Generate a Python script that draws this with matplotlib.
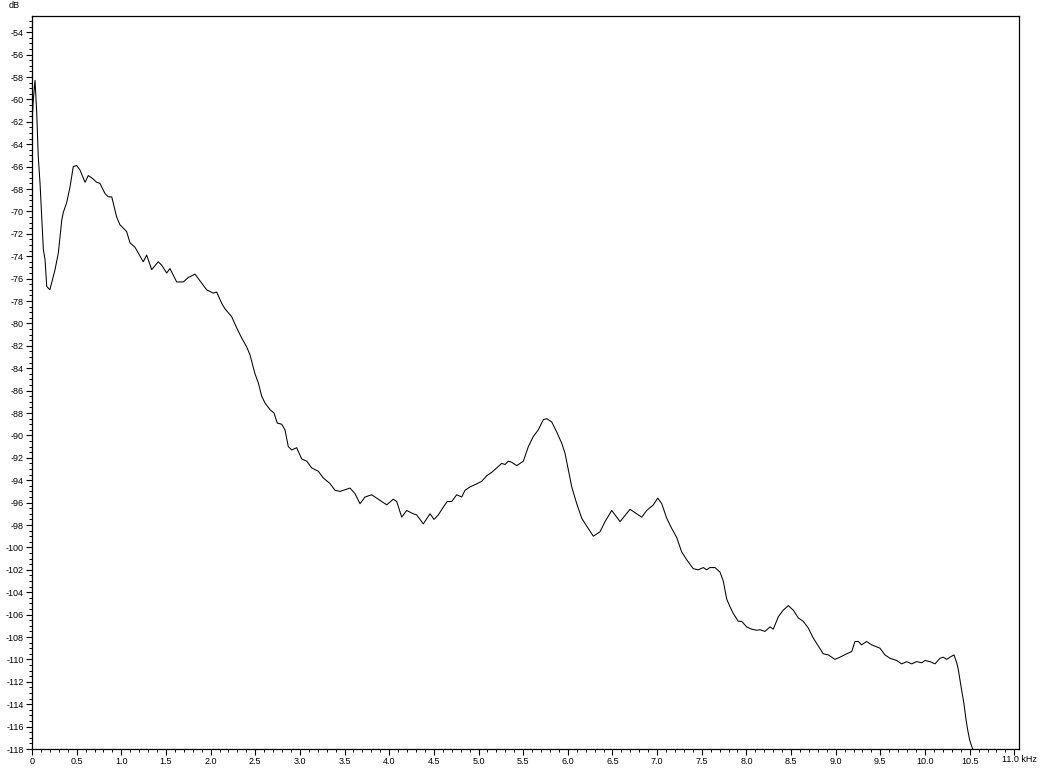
import matplotlib
matplotlib.use("Agg")
import matplotlib.pyplot as plt
from matplotlib.ticker import MultipleLocator, FixedLocator

plt.rcParams['axes.unicode_minus'] = False
plt.rcParams['font.family'] = ['Liberation Sans', 'DejaVu Sans']

freq_khz = [
    0.0, 0.015, 0.034, 0.053, 0.07, 0.09, 0.11, 0.127, 0.146, 0.165, 0.2, 0.258, 0.295,
    0.333, 0.35, 0.389, 0.426, 0.462, 0.5, 0.537, 0.594, 0.63, 0.668, 0.725, 0.761,
    0.817, 0.854, 0.893, 0.948, 0.985, 1.06, 1.097, 1.153, 1.246, 1.284, 1.34, 1.414,
    1.452, 1.508, 1.545, 1.62, 1.694, 1.75, 1.825,
    1.881, 1.956, 2.03, 2.068, 2.124, 2.161, 2.236, 2.292, 2.348, 2.404, 2.441, 2.497,
    2.534, 2.572, 2.609, 2.665, 2.71, 2.747, 2.796, 2.833, 2.87, 2.908, 2.964, 3.02,
    3.076, 3.132, 3.206, 3.262, 3.337, 3.393, 3.449, 3.561, 3.617, 3.673, 3.729, 3.804,
    3.878, 3.972, 4.046, 4.084, 4.14, 4.196, 4.27, 4.308, 4.382,
    4.457, 4.502, 4.55, 4.606, 4.65, 4.7, 4.756, 4.812, 4.849, 4.905, 4.961, 5.036,
    5.092, 5.148, 5.204, 5.26, 5.297, 5.334, 5.372, 5.428, 5.502, 5.558, 5.614, 5.67,
    5.726, 5.764, 5.82, 5.876, 5.932, 5.969, 6.006, 6.044, 6.1, 6.156, 6.212, 6.286,
    6.361, 6.417, 6.492, 6.585, 6.697, 6.753, 6.828, 6.884, 6.958, 7.007, 7.052, 7.108,
    7.163, 7.219, 7.275, 7.331, 7.405, 7.461, 7.517, 7.555, 7.592, 7.648, 7.704, 7.741,
    7.779, 7.816, 7.853, 7.909, 7.947, 8.003, 8.059, 8.115, 8.152, 8.208, 8.264, 8.301,
    8.357, 8.413, 8.469, 8.525, 8.581, 8.637, 8.693, 8.749, 8.805, 8.861, 8.917, 8.992,
    9.048, 9.123, 9.179, 9.216, 9.253, 9.29, 9.346, 9.403, 9.496, 9.552, 9.608, 9.683,
    9.739, 9.795, 9.851, 9.907, 9.963, 10.0, 10.056, 10.112, 10.168, 10.205, 10.243,
    10.28, 10.325, 10.355, 10.373, 10.403, 10.435, 10.46, 10.478, 10.5, 10.525, 10.54,
]

level_db = [
    -62.1, -60.0, -58.3, -61.2, -65.1, -67.5, -70.8, -73.4, -74.3, -76.7, -77.0, -75.2, -73.7,
    -70.8, -70.1, -69.2, -67.8, -66.0, -65.9, -66.3, -67.4, -66.8, -67.0, -67.4, -67.5,
    -68.4, -68.7, -68.7, -70.5, -71.2, -71.8, -72.8, -73.2, -74.5, -73.9, -75.2, -74.5,
    -74.8, -75.5, -75.1, -76.3, -76.3, -75.9, -75.6,
    -76.2, -77.0, -77.3, -77.2, -78.2, -78.7, -79.4, -80.4, -81.3, -82.1, -82.8, -84.5,
    -85.3, -86.5, -87.1, -87.7, -88.0, -88.9, -89.0, -89.5, -91.0, -91.3, -91.1, -92.1,
    -92.3, -92.9, -93.2, -93.8, -94.3, -94.9, -95.0, -94.7, -95.2, -96.1, -95.5, -95.3,
    -95.7, -96.2, -95.7, -95.9, -97.3, -96.7, -97.0, -97.1, -97.9,
    -97.0, -97.5, -97.1, -96.4, -95.9, -95.9, -95.3, -95.5, -94.9, -94.6, -94.4, -94.1,
    -93.6, -93.3, -92.9, -92.5, -92.6, -92.3, -92.4, -92.7, -92.3, -91.0, -90.1, -89.5,
    -88.6, -88.5, -88.8, -89.7, -90.7, -91.6, -93.1, -94.6, -96.1, -97.4, -98.1, -99.0,
    -98.6, -97.7, -96.7, -97.7, -96.6, -96.9, -97.3, -96.7, -96.2, -95.6, -96.1, -97.4,
    -98.3, -99.1, -100.4, -101.1, -101.9, -102.0, -101.8, -102.0, -101.8, -101.8, -102.2, -103.0,
    -104.6, -105.3, -105.9, -106.6, -106.6, -107.1, -107.3, -107.4, -107.35, -107.5, -107.1, -107.3,
    -106.2, -105.6, -105.2, -105.6, -106.3, -106.6, -107.2, -108.1, -108.8, -109.5, -109.6, -110.0,
    -109.8, -109.5, -109.3, -108.4, -108.4, -108.7, -108.4, -108.7, -109.0, -109.6, -109.9, -110.1,
    -110.4, -110.2, -110.4, -110.2, -110.3, -110.1, -110.2, -110.4, -109.9, -109.8, -110.0,
    -109.8, -109.6, -110.3, -110.9, -112.4, -113.9, -115.4, -116.3, -117.2, -117.8, -118.1,
]

x_major = [0, 0.5, 1.0, 1.5, 2.0, 2.5, 3.0, 3.5, 4.0, 4.5, 5.0, 5.5, 6.0, 6.5, 7.0, 7.5,
           8.0, 8.5, 9.0, 9.5, 10.0, 10.5, 11.0]
x_labels = ["0", "0.5", "1.0", "1.5", "2.0", "2.5", "3.0", "3.5", "4.0", "4.5", "5.0", "5.5",
            "6.0", "6.5", "7.0", "7.5", "8.0", "8.5", "9.0", "9.5", "10.0", "10.5", ""]
y_major = list(range(-118, -53, 2))
y_labels = [str(v) for v in y_major]

fig = plt.figure(figsize=(10.45, 7.77), dpi=100)
ax = fig.add_axes([32 / 1045, 28 / 777, 987 / 1045, 733 / 777])
ax.plot(freq_khz, level_db, color='black', linewidth=0.75)

ax.set_xlim(0, 987 / 89.3)
ax.set_ylim(-118, -118 + 733 / 11.2)

ax.xaxis.set_major_locator(FixedLocator(x_major))
ax.set_xticklabels(x_labels)
ax.xaxis.set_minor_locator(MultipleLocator(0.1))
ax.yaxis.set_major_locator(FixedLocator(y_major))
ax.set_yticklabels(y_labels)
ax.yaxis.set_minor_locator(MultipleLocator(0.5))

ax.tick_params(axis='both', which='major', direction='out', length=4, width=0.8,
               labelsize=6.5, pad=2, colors='black')
ax.tick_params(axis='both', which='minor', direction='out', length=2.5, width=0.7)
ax.tick_params(top=False, right=False)
for s in ax.spines.values():
    s.set_linewidth(0.9)
    s.set_color('black')

fig.text(14 / 1045, 1 - 6 / 777, "dB", fontsize=6.5, ha='center', va='center')
fig.text(1002 / 1045, 1 - 759 / 777, "11.0 kHz", fontsize=6.5, ha='left', va='center')

fig.savefig("out.png", dpi=100)
